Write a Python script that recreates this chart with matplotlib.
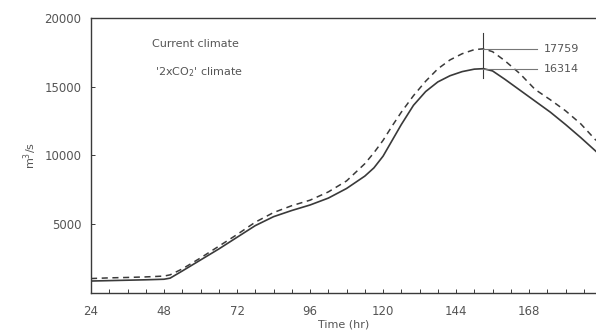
import numpy as np
import matplotlib.pyplot as plt
from matplotlib.ticker import MultipleLocator

# hydrograph data
hours = [24, 30, 36, 42, 48, 50, 54, 60, 66, 72, 78, 84, 90, 96, 102, 108, 114, 117,
         120, 123, 126, 130, 134, 138, 142, 146, 150, 153, 156, 160, 165, 170, 175,
         180, 185, 190]
current = [870, 900, 930, 960, 1000, 1080, 1600, 2400, 3200, 4050, 4900, 5550, 6000,
           6400, 6900, 7600, 8500, 9100, 9950, 11100, 12250, 13650, 14650, 15350, 15800,
           16100, 16280, 16314, 16150, 15550, 14750, 13950, 13150, 12250, 11300, 10300]
doubled = [1050, 1100, 1130, 1170, 1230, 1320, 1750, 2550, 3400, 4250, 5150, 5850, 6350,
           6750, 7350, 8150, 9400, 10200, 11100, 12150, 13150, 14350, 15400, 16300, 16950,
           17400, 17700, 17759, 17550, 16900, 15950, 14800, 14050, 13250, 12300, 11100]
peak_hr = 153
peak_labels = ["17759", "16314"]
peak_vals = [17759, 16314]

ink = '#3a3a3a'
txt = '#555555'

fig = plt.figure(figsize=(5.96, 3.32), dpi=100)
ax = fig.add_axes([0.1527, 0.1175, 0.8473, 0.8283])

ax.plot(hours, current, color=ink, lw=1.2)
ax.plot(hours, doubled, color=ink, lw=1.1, dashes=(4, 3))

# peak markers
ax.plot([peak_hr, peak_hr], [15600, 18900], color=ink, lw=0.8)
for v, lab in zip(peak_vals, peak_labels):
    ax.plot([peak_hr, 170.6], [v, v], color='#777777', lw=0.8)
    ax.text(173, v, lab, color=txt, fontsize=8, va='center', ha='left')

ax.text(44, 18100, "Current climate", color=txt, fontsize=8, va='center')
ax.text(45, 16100, "'2xCO$_2$' climate", color=txt, fontsize=8, va='center')

ax.set_xlim(24, 190)
ax.set_ylim(0, 20000)
ax.set_xticks([24, 48, 72, 96, 120, 144, 168])
ax.xaxis.set_minor_locator(MultipleLocator(6))
ax.set_yticks([5000, 10000, 15000, 20000])
ax.tick_params(axis='both', which='both', direction='in', colors=ink, labelcolor=txt,
               labelsize=8.5, length=3, width=0.7)
ax.tick_params(axis='x', pad=9)
ax.tick_params(axis='y', pad=7)
for s in ['left', 'bottom', 'top']:
    ax.spines[s].set_color(ink)
    ax.spines[s].set_linewidth(1.0)
ax.spines['right'].set_visible(False)

ax.set_xlabel("Time (hr)", color=txt, fontsize=8, labelpad=1)
ax.set_ylabel("m$^3$/s", color=txt, fontsize=8, labelpad=4)

fig.savefig('out.png', dpi=100)
